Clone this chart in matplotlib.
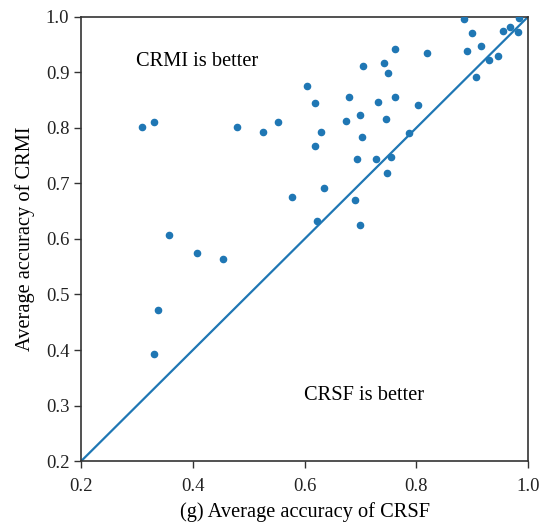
import matplotlib.pyplot as plt

plt.rcParams['font.family'] = ['Liberation Serif', 'DejaVu Serif']

# accuracy pairs (CRSF, CRMI)
crsf = [0.885, 0.899, 0.983, 0.968, 0.955, 0.982, 0.761, 0.819, 0.891, 0.916,
        0.930, 0.946, 0.705, 0.742, 0.749, 0.906, 0.605, 0.618, 0.679, 0.761,
        0.732, 0.803, 0.699, 0.674, 0.746, 0.553, 0.630, 0.787, 0.618, 0.703,
        0.693, 0.727, 0.754, 0.747, 0.635, 0.577, 0.691, 0.309, 0.330, 0.479,
        0.525, 0.622, 0.357, 0.407, 0.454, 0.337, 0.330, 0.699]
crmi = [0.996, 0.971, 0.998, 0.981, 0.975, 0.972, 0.942, 0.934, 0.938, 0.948,
        0.923, 0.930, 0.912, 0.917, 0.898, 0.891, 0.875, 0.844, 0.856, 0.856,
        0.847, 0.842, 0.823, 0.813, 0.816, 0.811, 0.793, 0.790, 0.768, 0.783,
        0.744, 0.744, 0.747, 0.718, 0.691, 0.675, 0.671, 0.801, 0.810, 0.802,
        0.793, 0.632, 0.607, 0.574, 0.563, 0.472, 0.392, 0.625]

diag = [0.2, 1.0]

fig = plt.figure(figsize=(5.41, 5.24), dpi=100)
ax = fig.add_axes([0.150, 0.120, 0.826, 0.848])

ax.plot(diag, diag, color='#1f77b4', linewidth=1.6)
ax.scatter(crsf, crmi, s=20, color='#1f77b4', zorder=3)

ax.text(0.408, 0.919, 'CRMI is better', fontsize=14.7, ha='center', va='center')
ax.text(0.706, 0.319, 'CRSF is better', fontsize=14.7, ha='center', va='center')

ax.set_xlim(0.2, 1.0)
ax.set_ylim(0.2, 1.0)
ax.set_xticks([0.2, 0.4, 0.6, 0.8, 1.0])
ax.set_yticks([0.2, 0.3, 0.4, 0.5, 0.6, 0.7, 0.8, 0.9, 1.0])
ax.tick_params(labelsize=13.5, length=5, width=1.0, colors='#333333',
               labelcolor='#222222')
ax.tick_params(axis='x', pad=7)
for sp in ax.spines.values():
    sp.set_color('#333333')
    sp.set_linewidth(1.2)

ax.set_xlabel('(g) Average accuracy of CRSF', fontsize=14.7, labelpad=5)
ax.set_ylabel('Average accuracy of CRMI', fontsize=14.7, labelpad=8)

fig.savefig('out.png', dpi=100)
